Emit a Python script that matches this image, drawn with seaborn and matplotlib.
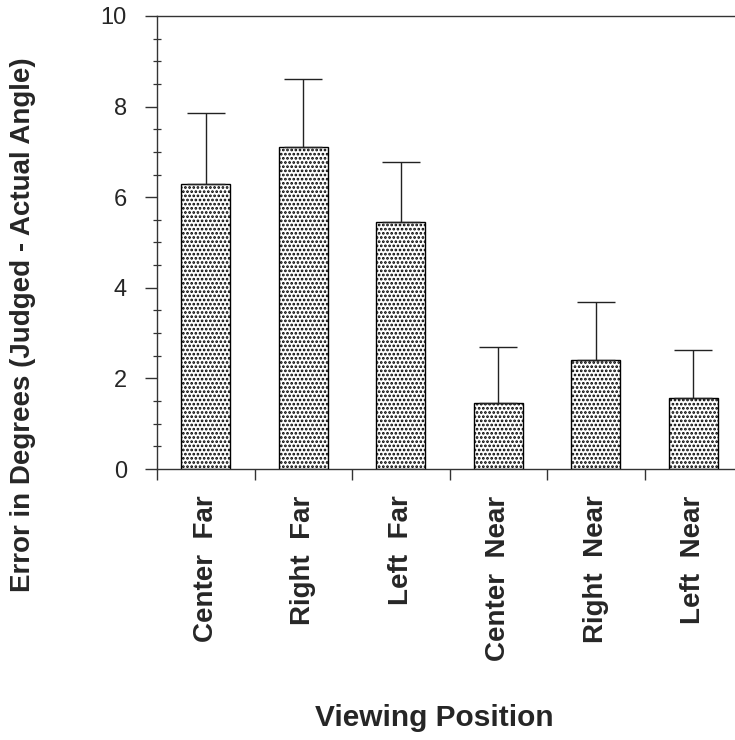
import matplotlib
matplotlib.use('Agg')
import matplotlib.pyplot as plt
import seaborn as sns
import numpy as np
from matplotlib.ticker import MultipleLocator, FixedLocator

# Viewing position conditions and mean judged-angle errors (deg)
positions = ['Center  Far', 'Right  Far', 'Left  Far',
             'Center  Near', 'Right  Near', 'Left  Near']
mean_error = [6.3, 7.1, 5.45, 1.46, 2.4, 1.57]
upper_error = [1.55, 1.5, 1.33, 1.24, 1.29, 1.06]

sns.set_style('white')
plt.rcParams['font.family'] = ['Liberation Sans', 'DejaVu Sans']
plt.rcParams['hatch.linewidth'] = 1.3
plt.rcParams['hatch.color'] = '#1a1a1a'

fig = plt.figure(figsize=(7.35, 7.4), dpi=100)
ax = fig.add_axes([157 / 735, 1 - 469 / 740, 585 / 735, 453 / 740])

sns.barplot(x=positions, y=mean_error, ax=ax, color='white',
            edgecolor='black', linewidth=1.0, width=0.5, hatch='....',
            saturation=1)

# upper-only error bars
xs = np.arange(len(positions))
ax.errorbar(xs, mean_error, yerr=[np.zeros(len(xs)), upper_error],
            fmt='none', ecolor='#222222', elinewidth=1.0, capsize=14,
            capthick=1.0)

ax.set_xlim(-0.5, 5.5)
ax.set_ylim(0, 10)

# spines: left, bottom and top
ax.spines['right'].set_visible(False)
for side in ['left', 'bottom', 'top']:
    ax.spines[side].set_visible(True)
    ax.spines[side].set_color('#333333')
    ax.spines[side].set_linewidth(1.0)

ax.yaxis.set_major_locator(MultipleLocator(2))
ax.yaxis.set_minor_locator(MultipleLocator(0.5))
ax.tick_params(axis='y', which='major', direction='out', length=8.6,
               width=1.0, color='#333333', labelsize=17, pad=13, left=True)
ax.tick_params(axis='y', which='minor', direction='inout', length=5.5,
               width=0.9, color='#333333', left=True)

ax.xaxis.set_minor_locator(FixedLocator(np.arange(-0.5, 6, 1.0)))
ax.tick_params(axis='x', which='major', length=0, pad=19, labelsize=20)
ax.tick_params(axis='x', which='minor', direction='out', length=8,
               width=1.0, color='#333333', bottom=True)
for lab in ax.get_xticklabels():
    lab.set_rotation(90)
    lab.set_fontweight('bold')
    lab.set_va('top')

ax.set_xlabel('')
ax.set_ylabel('')
fig.text(23 / 735, 1 - 325 / 740, 'Error in Degrees (Judged - Actual Angle)',
         rotation=90, ha='center', va='center', fontsize=20,
         fontweight='bold')
fig.text(434 / 735, 1 - 718 / 740, 'Viewing Position', ha='center',
         va='center', fontsize=21.5, fontweight='bold')

fig.savefig('out.png', dpi=100, facecolor='white')
